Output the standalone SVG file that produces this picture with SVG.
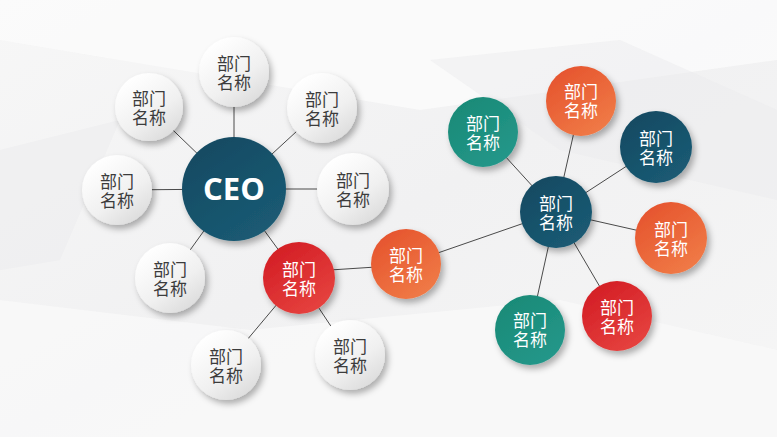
<svg xmlns="http://www.w3.org/2000/svg" width="777" height="437" viewBox="0 0 777 437">
<defs>
<linearGradient id="bg" x1="0" y1="0" x2="1" y2="1">
<stop offset="0" stop-color="#f7f7f7"/>
<stop offset="0.5" stop-color="#f1f1f2"/>
<stop offset="1" stop-color="#f6f6f6"/>
</linearGradient>
<linearGradient id="gGray" x1="0.2" y1="0.1" x2="0.8" y2="0.95">
<stop offset="0" stop-color="#ffffff"/>
<stop offset="0.6" stop-color="#f0f0f0"/>
<stop offset="1" stop-color="#dcdcdc"/>
</linearGradient>
<linearGradient id="gDark" x1="0.2" y1="0.1" x2="0.8" y2="0.95">
<stop offset="0" stop-color="#134b63"/>
<stop offset="1" stop-color="#1b5b74"/>
</linearGradient>
<linearGradient id="gTeal" x1="0.2" y1="0.1" x2="0.8" y2="0.95">
<stop offset="0" stop-color="#198b78"/>
<stop offset="1" stop-color="#25978a"/>
</linearGradient>
<linearGradient id="gOrange" x1="0.2" y1="0.1" x2="0.8" y2="0.95">
<stop offset="0" stop-color="#e6562f"/>
<stop offset="1" stop-color="#f07b47"/>
</linearGradient>
<linearGradient id="gRed" x1="0.2" y1="0.1" x2="0.8" y2="0.95">
<stop offset="0" stop-color="#d41f26"/>
<stop offset="1" stop-color="#e6433f"/>
</linearGradient>
<filter id="sh" x="-30%" y="-30%" width="170%" height="170%">
<feDropShadow dx="3" dy="4" stdDeviation="3" flood-color="#000" flood-opacity="0.3"/>
</filter>
<style>
.gray{fill:url(#gGray);filter:url(#sh)}
.dark{fill:url(#gDark);filter:url(#sh)}
.teal{fill:url(#gTeal);filter:url(#sh)}
.orange{fill:url(#gOrange);filter:url(#sh)}
.red{fill:url(#gRed);filter:url(#sh)}
.lbl{font-family:"Noto Sans CJK SC","Noto Sans",sans-serif;font-size:17px;text-anchor:middle}
.lg{fill:#3c3c3c}
.lw{fill:#ffffff}
.ceo{font-family:"Open Sans","Liberation Sans",sans-serif;font-size:31px;font-weight:700;fill:#ffffff;text-anchor:middle}
#connectors line{stroke:#4a4a4a;stroke-width:1}
</style>
</defs>
<rect width="777" height="437" fill="url(#bg)"/>
<polygon points="0,0 777,0 777,60 420,110 0,40" fill="#fbfbfb" opacity="0.8"/>
<polygon points="0,300 250,330 560,300 777,350 777,437 0,437" fill="#f9f9f9" opacity="0.8"/>
<polygon points="430,60 620,40 777,110 777,200 560,150" fill="#ececee" opacity="0.5"/>
<polygon points="0,150 120,120 60,260 0,270" fill="#ececee" opacity="0.5"/>
<g id="connectors">
<line x1="234" y1="189" x2="234" y2="72"/>
<line x1="234" y1="189" x2="149" y2="107"/>
<line x1="234" y1="189" x2="322" y2="108"/>
<line x1="234" y1="189" x2="117" y2="190"/>
<line x1="234" y1="189" x2="353" y2="189"/>
<line x1="234" y1="189" x2="170" y2="278"/>
<line x1="234" y1="189" x2="299" y2="278"/>
<line x1="299" y1="278" x2="226" y2="365"/>
<line x1="299" y1="278" x2="350" y2="355"/>
<line x1="330" y1="270" x2="376" y2="267"/>
<line x1="406" y1="264" x2="556" y2="212"/>
<line x1="556" y1="212" x2="483" y2="132"/>
<line x1="556" y1="212" x2="581" y2="101"/>
<line x1="556" y1="212" x2="656" y2="147"/>
<line x1="556" y1="212" x2="671" y2="238"/>
<line x1="556" y1="212" x2="617" y2="316"/>
<line x1="556" y1="212" x2="530" y2="330"/>
</g>
<g id="ceo"><circle cx="234" cy="189" r="52" class="dark"/><text x="234" y="200" class="ceo">CEO</text></g>
<g id="dept-top"><circle cx="234" cy="72" r="35" class="gray"/><text class="lbl lg" x="234" y="70">部门<tspan x="234" dy="19">名称</tspan></text></g>
<g id="dept-upper-left"><circle cx="149" cy="107" r="34" class="gray"/><text class="lbl lg" x="149" y="105">部门<tspan x="149" dy="19">名称</tspan></text></g>
<g id="dept-upper-right"><circle cx="322" cy="108" r="35" class="gray"/><text class="lbl lg" x="322" y="106">部门<tspan x="322" dy="19">名称</tspan></text></g>
<g id="dept-left"><circle cx="117" cy="190" r="35" class="gray"/><text class="lbl lg" x="117" y="188">部门<tspan x="117" dy="19">名称</tspan></text></g>
<g id="dept-right"><circle cx="353" cy="189" r="36" class="gray"/><text class="lbl lg" x="353" y="187">部门<tspan x="353" dy="19">名称</tspan></text></g>
<g id="dept-lower-left"><circle cx="170" cy="278" r="35" class="gray"/><text class="lbl lg" x="170" y="276">部门<tspan x="170" dy="19">名称</tspan></text></g>
<g id="dept-red"><circle cx="299" cy="278" r="36" class="red"/><text class="lbl lw" x="299" y="276">部门<tspan x="299" dy="19">名称</tspan></text></g>
<g id="dept-bottom-1"><circle cx="226" cy="365" r="35" class="gray"/><text class="lbl lg" x="226" y="363">部门<tspan x="226" dy="19">名称</tspan></text></g>
<g id="dept-bottom-2"><circle cx="350" cy="355" r="35" class="gray"/><text class="lbl lg" x="350" y="353">部门<tspan x="350" dy="19">名称</tspan></text></g>
<g id="dept-orange-mid"><circle cx="406" cy="264" r="35" class="orange"/><text class="lbl lw" x="406" y="262">部门<tspan x="406" dy="19">名称</tspan></text></g>
<g id="dept-hub"><circle cx="556" cy="212" r="36" class="dark"/><text class="lbl lw" x="556" y="210">部门<tspan x="556" dy="19">名称</tspan></text></g>
<g id="dept-teal-top"><circle cx="483" cy="132" r="35" class="teal"/><text class="lbl lw" x="483" y="130">部门<tspan x="483" dy="19">名称</tspan></text></g>
<g id="dept-orange-top"><circle cx="581" cy="101" r="35" class="orange"/><text class="lbl lw" x="581" y="98">部门<tspan x="581" dy="19">名称</tspan></text></g>
<g id="dept-dark-right"><circle cx="656" cy="147" r="36" class="dark"/><text class="lbl lw" x="656" y="145">部门<tspan x="656" dy="19">名称</tspan></text></g>
<g id="dept-orange-right"><circle cx="671" cy="238" r="36" class="orange"/><text class="lbl lw" x="671" y="236">部门<tspan x="671" dy="19">名称</tspan></text></g>
<g id="dept-red-right"><circle cx="617" cy="316" r="35" class="red"/><text class="lbl lw" x="617" y="314">部门<tspan x="617" dy="19">名称</tspan></text></g>
<g id="dept-teal-bottom"><circle cx="530" cy="330" r="35" class="teal"/><text class="lbl lw" x="530" y="327">部门<tspan x="530" dy="19">名称</tspan></text></g>
</svg>
